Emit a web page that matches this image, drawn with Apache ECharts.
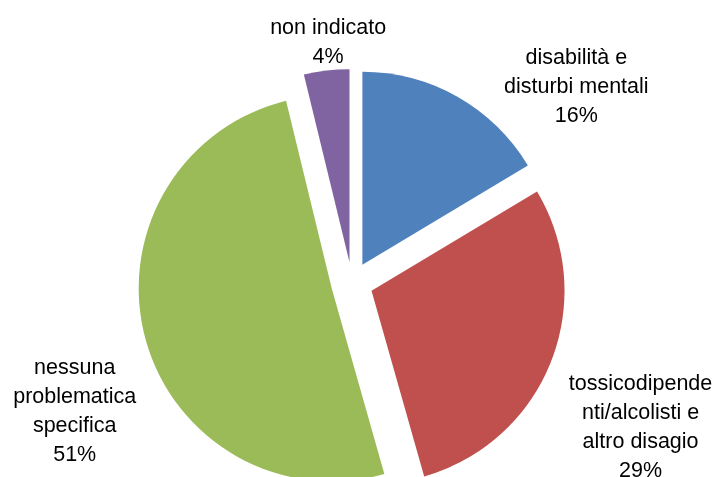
<!DOCTYPE html>
<html>
<head>
<meta charset="utf-8">
<script src="https://cdn.jsdelivr.net/npm/echarts@6/dist/echarts.min.js"></script>
<style>
  html, body { margin: 0; padding: 0; background: #fff; }
  #chart { width: 718px; height: 477px; }
</style>
</head>
<body>
<div id="chart"></div>
<script>
const categories = [
  'disabilità e\ndisturbi mentali',
  'tossicodipende\nnti/alcolisti e\naltro disagio',
  'nessuna\nproblematica\nspecifica',
  'non indicato'
]
const values = [16.4, 29.2, 50.6, 3.8]
const colors = ['#4F81BD', '#C0504D', '#9BBB59', '#8064A2']

// nudges for the outside labels (excel places them off the mid-angle)
const labelShift = [[104, 8], [66, 58], [-46, 69], [9, -8]]

const chart = echarts.init(document.getElementById('chart'))
chart.setOption({
  animation: false,
  series: [{
    type: 'pie',
    center: [352, 283],
    radius: 193,
    startAngle: 90,
    clockwise: true,
    selectedMode: 'multiple',
    selectedOffset: 21,
    avoidLabelOverlap: false,
    itemStyle: { borderWidth: 0 },
    label: {
      show: true,
      position: 'outside',
      fontFamily: '"Liberation Sans", Arial, sans-serif',
      fontSize: 21.5,
      lineHeight: 29,
      color: '#000',
      align: 'center',
      formatter: p => p.name + '\n' + Math.round(p.value) + '%'
    },
    labelLine: { show: false, length: 20, length2: 0 },
    labelLayout: p => ({
      align: 'center',
      verticalAlign: 'middle',
      dx: labelShift[p.dataIndex][0],
      dy: labelShift[p.dataIndex][1]
    }),
    emphasis: { disabled: true },
    data: categories.map((name, i) => ({
      name: name,
      value: values[i],
      selected: true,
      itemStyle: { color: colors[i] }
    }))
  }]
})
</script>
</body>
</html>
